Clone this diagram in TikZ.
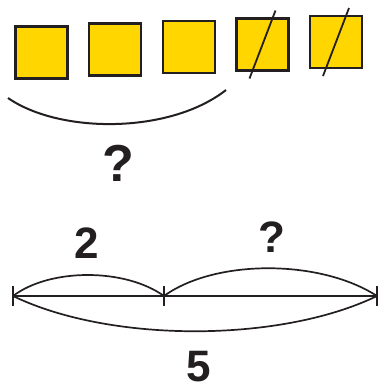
\documentclass[tikz,border=0pt]{standalone}
\usepackage{fontspec}
\setmainfont{Liberation Sans}
\usepackage{tikz}
\usetikzlibrary{positioning,calc}
\definecolor{tileyellow}{RGB}{255,214,0}
\definecolor{ink}{RGB}{35,31,32}
\tikzset{
  tile/.style={rectangle, draw=ink, line width=2.2pt, fill=tileyellow, minimum width=52pt, minimum height=52pt, inner sep=0pt},
  cross/.style={draw=ink, line width=1.8pt},
  brace/.style={draw=ink, line width=2pt},
  seg/.style={draw=ink, line width=1.7pt},
  lab/.style={font=\bfseries\fontsize{44}{44}\selectfont, text=ink, inner sep=0pt}
}
\begin{document}
\begin{tikzpicture}[x=1pt, y=-1pt]
\useasboundingbox[fill=white] (0,0) rectangle (380,389);
% row of tiles
\foreach \i/\cx/\cy in {1/41.5/52.5, 2/115/49.5, 3/189/47, 4/262.5/44.5, 5/336/42} {
  \node[tile] (sq\i) at (\cx,\cy) {};
}
\foreach \i in {4,5} {
  \draw[cross] ($(sq\i.center)+(13,-34)$) -- ($(sq\i.center)+(-13,34)$);
}
\coordinate (bl) at (8,98);
\coordinate (br) at (226,90);
\draw[brace] (bl) .. controls (60,134) and (170,134) .. (br);
\node[lab, font=\bfseries\fontsize{52}{52}\selectfont] (q1) at (118,163) {?};
% segment diagram
\coordinate (L) at (13,296);
\coordinate (M) at (164,296);
\coordinate (R) at (377,296);
\draw[seg] (L) -- (R);
\foreach \p in {L,M,R} {
  \draw[seg] ($(\p)+(0,-10)$) -- ($(\p)+(0,10)$);
}
\draw[seg] (L) .. controls (50,268) and (125,268) .. (M);
\draw[seg] (M) .. controls (215,259) and (320,259) .. (R);
\draw[seg] (L) .. controls (110,343) and (280,343) .. (R);
\node[lab] (two) at (87,243) {2};
\node[lab] (q2) at (272,237) {?};
\node[lab] (five) at (199,367) {5};
\end{tikzpicture}
\end{document}
